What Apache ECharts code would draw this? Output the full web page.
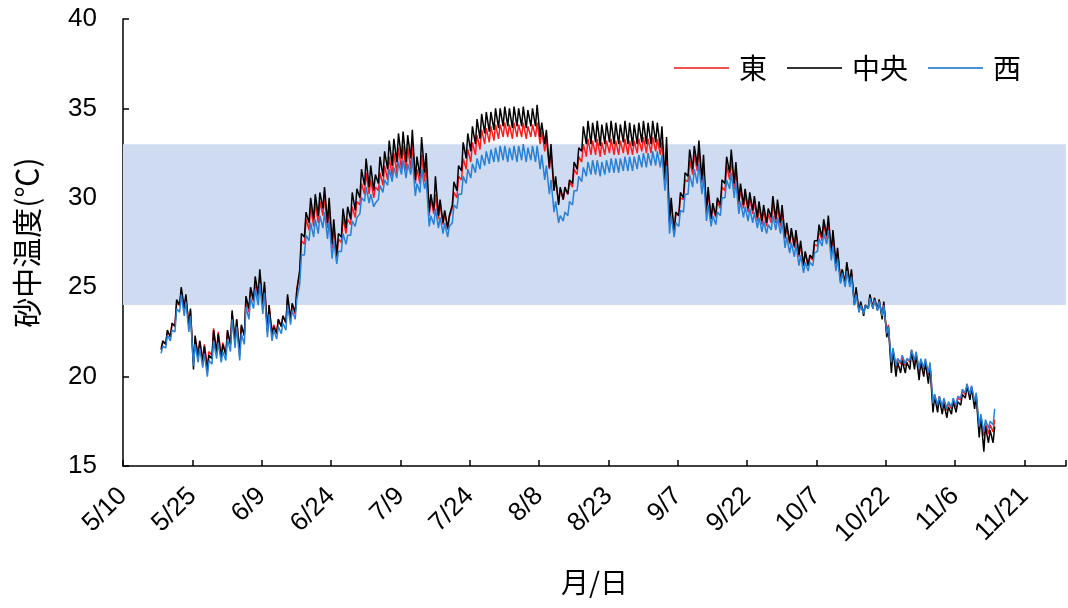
<!DOCTYPE html>
<html><head><meta charset="utf-8">
<script src="https://cdn.jsdelivr.net/npm/echarts@6/dist/echarts.min.js"></script>
<style>html,body{margin:0;padding:0;background:#fff}#c{width:1068px;height:608px}</style>
</head><body><div id="c"></div>
<script>
const seriesNames = ['東', '中央', '西'];
const xTickLabels = ['5/10','5/25','6/9','6/24','7/9','7/24','8/8','8/23','9/7','9/22','10/7','10/22','11/6','11/21'];
const yTicks = [15, 20, 25, 30, 35, 40];
const bandRange = [24, 33];
const START_DAY = 8; // first day of data = 5/18 (days after 5/10)

// 中央 daily low / high
const centerLow = [
21.5,21.8,22.2,22.8,24.0,23.8,22.8,20.4,21.0,20.8,
20.3,21.0,21.3,21.0,21.2,21.8,22.0,21.2,22.3,23.8,
24.3,24.6,24.0,22.5,22.3,22.4,22.8,23.0,23.2,23.6,
26.0,27.8,28.6,28.8,29.0,29.4,28.6,27.4,26.7,27.8,
28.3,28.8,29.3,30.0,30.7,30.6,30.4,30.8,31.2,31.6,
31.8,32.0,32.2,32.0,32.2,31.0,31.2,31.4,29.2,29.3,
29.0,28.6,28.3,29.6,30.4,31.5,32.2,32.6,33.0,33.3,
33.6,33.7,33.8,33.9,34.0,34.0,33.9,34.0,34.0,33.9,
34.0,34.0,33.4,33.0,31.7,30.4,29.6,29.9,30.2,30.8,
31.6,32.6,33.0,33.0,33.1,32.9,33.0,33.1,33.0,33.0,
33.1,33.0,32.9,33.0,33.1,33.0,33.0,33.1,32.8,31.0,
28.6,28.0,29.0,30.0,31.2,31.6,31.8,31.0,29.2,28.8,
29.0,29.6,30.8,31.4,30.8,29.8,29.6,29.4,29.3,28.9,
28.7,28.6,28.9,28.8,28.6,27.8,27.5,27.3,26.8,26.2,
26.2,26.6,27.6,27.8,27.9,27.0,26.3,25.3,25.2,25.2,
24.0,23.6,23.4,23.8,23.8,23.7,23.2,22.2,20.2,20.0,
20.2,20.2,20.4,20.4,19.8,20.0,19.6,18.0,18.0,17.9,
17.7,17.9,18.0,18.4,18.8,18.7,18.2,16.6,15.8,16.3,16.3];
const centerHigh = [
22.0,22.6,23.0,24.3,25.0,24.6,23.8,22.3,22.0,21.7,
21.2,22.6,22.4,21.8,22.6,23.7,23.2,22.9,24.5,25.0,
25.6,26.0,25.3,24.0,22.8,23.2,23.4,24.6,24.1,24.8,
28.0,29.2,30.0,30.2,30.3,30.6,30.0,28.8,28.0,29.4,
29.5,30.3,30.5,31.6,32.2,31.8,31.3,32.3,32.6,33.2,
33.3,33.6,33.7,33.5,33.8,32.3,33.4,32.5,30.2,31.2,
29.9,29.3,29.0,30.9,31.8,33.1,33.6,34.0,34.4,34.7,
34.8,34.8,35.0,35.0,35.1,35.0,35.1,35.0,35.1,34.9,
35.0,35.2,34.2,33.8,33.0,31.2,30.6,30.6,31.0,32.0,
32.8,34.0,34.3,34.2,34.3,34.1,34.2,34.3,34.2,34.1,
34.3,34.2,34.1,34.2,34.3,34.2,34.3,34.2,34.0,33.4,
30.0,29.2,30.3,31.4,32.7,32.9,33.2,32.4,30.6,29.7,
30.0,31.0,32.3,32.7,32.0,30.8,30.5,30.3,30.1,29.8,
29.6,29.4,30.1,29.9,29.6,28.6,28.3,28.2,27.6,27.0,
26.8,27.6,28.5,28.8,29.0,28.2,27.2,26.0,26.4,26.0,
25.0,24.2,24.0,24.6,24.4,24.3,24.2,22.8,21.5,20.8,
20.9,20.8,21.4,21.2,20.8,20.8,20.6,18.9,18.8,18.5,
18.3,18.6,18.6,19.0,19.5,19.4,18.9,17.8,17.2,17.0,17.2];

// 東 daily low / high
const eastLow = [
21.6,21.9,22.3,22.9,24.0,23.8,22.9,20.8,21.2,21.0,
20.6,21.2,21.4,21.2,21.3,21.8,22.0,21.4,22.3,23.6,
24.2,24.4,23.9,22.6,22.4,22.5,22.8,23.0,23.2,23.5,
25.8,27.4,28.2,28.4,28.6,29.0,28.3,27.2,26.6,27.5,
28.0,28.5,28.9,29.6,30.2,30.2,30.0,30.4,30.7,31.0,
31.2,31.4,31.6,31.5,31.6,30.8,30.8,30.9,29.0,29.1,
28.8,28.5,28.2,29.4,30.0,31.0,31.6,32.0,32.4,32.7,
33.0,33.1,33.2,33.3,33.4,33.4,33.3,33.4,33.4,33.3,
33.4,33.4,33.0,32.6,31.6,30.4,29.7,29.9,30.2,30.6,
31.3,32.0,32.3,32.4,32.4,32.3,32.4,32.5,32.4,32.4,
32.5,32.4,32.4,32.5,32.6,32.5,32.5,32.6,32.4,30.9,
28.6,28.1,29.0,29.9,30.9,31.3,31.5,30.8,29.2,28.8,
28.9,29.4,30.4,31.0,30.5,29.6,29.4,29.2,29.1,28.7,
28.5,28.4,28.6,28.6,28.4,27.7,27.4,27.2,26.7,26.2,
26.2,26.5,27.3,27.6,27.7,26.9,26.3,25.4,25.3,25.3,
24.1,23.7,23.6,23.9,23.9,23.8,23.4,22.4,20.6,20.5,
20.7,20.6,20.8,20.8,20.3,20.4,20.1,18.4,18.3,18.3,
18.1,18.2,18.3,18.7,19.0,18.9,18.5,17.0,16.7,16.8,16.9];
const eastHigh = [
21.9,22.5,22.9,24.1,24.8,24.5,23.7,22.2,22.0,21.8,
21.4,22.7,22.5,21.9,22.5,23.5,23.2,22.8,24.3,24.8,
25.3,25.6,25.1,24.0,22.9,23.2,23.4,24.4,24.0,24.9,
27.6,28.8,29.5,29.7,29.8,30.1,29.5,28.4,27.7,28.9,
28.8,29.5,29.8,30.8,31.4,31.0,30.6,31.4,31.8,32.3,
32.5,32.8,32.9,32.8,33.0,31.6,32.4,31.8,29.9,30.2,
29.6,29.2,28.9,30.3,31.2,32.2,32.7,33.1,33.5,33.8,
33.9,34.0,34.1,34.1,34.2,34.1,34.2,34.1,34.2,34.0,
34.1,34.2,33.7,33.3,32.6,31.0,30.5,30.5,30.9,31.6,
32.3,33.0,33.3,33.2,33.3,33.1,33.2,33.3,33.2,33.2,
33.3,33.2,33.2,33.3,33.4,33.3,33.4,33.3,33.1,32.8,
29.7,29.1,30.0,31.0,32.1,32.4,32.7,31.9,30.3,29.5,
29.8,30.6,31.8,32.2,31.6,30.5,30.2,30.0,29.8,29.5,
29.3,29.1,29.7,29.5,29.2,28.4,28.1,28.0,27.4,26.9,
26.7,27.4,28.2,28.5,28.6,27.9,27.0,26.0,26.3,25.9,
24.8,24.1,24.0,24.5,24.4,24.3,24.1,22.9,21.5,21.0,
21.1,21.0,21.5,21.3,20.9,20.9,20.7,19.0,18.9,18.7,
18.5,18.7,18.8,19.2,19.5,19.4,19.0,17.8,17.4,17.3,17.6];

// 西 daily low / high
const westLow = [
21.3,21.6,22.0,22.5,23.6,23.4,22.5,20.6,20.8,20.5,
20.0,20.7,21.0,20.8,20.9,21.4,21.6,20.9,21.8,23.2,
23.8,24.0,23.5,22.2,22.0,22.1,22.4,22.6,22.9,23.2,
25.2,26.8,27.6,27.8,28.0,28.3,27.7,26.6,26.3,27.0,
27.4,27.9,28.4,29.1,29.8,29.7,29.5,29.9,30.3,30.7,
30.9,31.1,31.3,31.1,31.3,30.1,30.3,30.5,28.4,28.5,
28.3,28.0,27.8,28.6,29.4,30.2,30.8,31.1,31.4,31.6,
31.8,31.9,32.0,32.0,32.1,32.0,32.1,32.0,32.1,32.0,
32.1,32.0,31.6,31.0,30.2,29.2,28.6,28.7,29.0,29.6,
30.4,30.9,31.2,31.3,31.3,31.2,31.3,31.4,31.4,31.4,
31.5,31.5,31.5,31.6,31.7,31.7,31.8,31.8,31.7,30.4,
28.0,27.8,28.4,29.2,30.2,30.6,30.8,30.2,28.7,28.4,
28.5,29.0,30.0,30.5,30.0,29.1,28.9,28.7,28.6,28.3,
28.1,28.0,28.2,28.2,28.0,27.2,26.9,26.7,26.2,25.8,
25.9,26.2,27.0,27.3,27.4,26.5,25.9,25.2,25.0,25.0,
24.0,23.6,23.5,23.8,23.8,23.7,23.4,22.4,20.8,20.6,
20.8,20.7,20.9,20.9,20.4,20.5,20.2,18.5,18.4,18.3,
18.2,18.3,18.4,18.8,19.1,19.0,18.6,17.2,16.9,17.1,17.3];
const westHigh = [
21.7,22.3,22.6,23.8,24.6,24.2,23.4,21.8,21.6,21.3,
20.9,22.0,21.9,21.4,22.1,23.2,22.8,22.4,23.9,24.4,
24.9,25.2,24.7,23.5,22.6,22.8,23.0,24.0,23.7,24.3,
26.8,27.9,28.6,28.8,29.0,29.2,28.7,27.6,27.0,28.0,
27.9,28.7,28.9,30.0,30.6,30.2,29.7,30.7,31.0,31.6,
31.7,32.0,32.1,31.9,32.2,30.8,31.6,31.0,29.0,29.4,
28.9,28.6,28.4,29.6,30.2,31.2,31.6,31.9,32.2,32.4,
32.6,32.7,32.8,32.9,32.9,32.8,32.9,32.9,33.0,32.8,
32.9,32.9,32.4,31.8,31.0,29.8,29.0,29.2,29.8,30.4,
31.2,31.7,32.0,32.1,32.1,32.0,32.1,32.2,32.2,32.2,
32.3,32.3,32.3,32.4,32.5,32.5,32.6,32.6,32.4,31.8,
29.0,28.6,29.3,30.2,31.3,31.6,31.9,31.2,29.6,29.0,
29.2,30.0,31.0,31.4,30.9,29.8,29.5,29.4,29.2,28.9,
28.7,28.5,29.0,28.9,28.7,27.8,27.5,27.4,26.8,26.4,
26.4,26.9,27.7,28.0,28.2,27.3,26.6,25.8,25.9,25.6,
24.6,24.0,24.0,24.4,24.3,24.2,24.0,22.8,21.6,21.0,
21.2,21.0,21.5,21.4,21.0,21.0,20.8,19.0,18.9,18.8,
18.6,18.8,18.9,19.3,19.6,19.5,19.1,17.9,17.6,17.5,18.2];

function buildSeries(lows, highs) {
  const out = [];
  for (let i = 0; i < lows.length; i++) {
    const d = START_DAY + i;
    out.push([d + 0.25, lows[i]]);
    out.push([d + 0.6, highs[i]]);
  }
  return out;
}

const chart = echarts.init(document.getElementById('c'), null, {renderer: 'canvas'});
const FONT = '"Liberation Sans", Arial, "Noto Sans CJK JP", sans-serif';
const CJK = '"Noto Sans CJK JP", "Noto Sans CJK SC", sans-serif';
const colors = ['#ff1e1e', '#000000', '#2a80d2'];
const legendColors = ['#f05050', '#333333', '#4a92d4'];

chart.setOption({
  animation: false,
  backgroundColor: '#ffffff',
  grid: {left: 123, top: 19, right: 0, bottom: 142, containLabel: false},
  legend: {
    right: 42, top: 49,
    icon: 'rect',
    itemWidth: 55, itemHeight: 2, itemGap: 20,
    textStyle: {fontFamily: CJK, fontSize: 28, color: '#000', padding: [0, 0, 0, 5]},
    data: seriesNames.map((n, i) => ({name: n, itemStyle: {color: legendColors[i]}}))
  },
  xAxis: {
    type: 'value', min: 0, max: 204, interval: 15,
    name: '月/日', nameLocation: 'middle', nameGap: 102,
    nameTextStyle: {fontFamily: CJK, fontSize: 28, color: '#000'},
    axisLine: {show: true, lineStyle: {color: '#000', width: 1.5}},
    axisTick: {show: true, inside: true, length: 6, lineStyle: {color: '#000', width: 1.5}},
    splitLine: {show: false},
    axisLabel: {
      rotate: 45, margin: 26, fontFamily: FONT, fontSize: 26, color: '#000',
      formatter: v => xTickLabels[Math.round(v / 15)] || ''
    }
  },
  yAxis: {
    type: 'value', min: yTicks[0], max: yTicks[yTicks.length - 1], interval: 5,
    name: '砂中温度(℃)', nameLocation: 'middle', nameGap: 81, nameRotate: 90,
    nameTextStyle: {fontFamily: CJK, fontSize: 30, color: '#000'},
    axisLine: {show: true, lineStyle: {color: '#000', width: 1.5}},
    axisTick: {show: true, inside: true, length: 6, lineStyle: {color: '#000', width: 1.5}},
    splitLine: {show: false},
    axisLabel: {margin: 26, fontFamily: FONT, fontSize: 26, color: '#000'}
  },
  series: [
    {
      name: seriesNames[0], type: 'line', symbol: 'none', data: buildSeries(eastLow, eastHigh),
      lineStyle: {color: colors[0], width: 1.5}, itemStyle: {color: colors[0]},
      markArea: {silent: true, itemStyle: {color: '#cfdbf0'}, data: [[{yAxis: bandRange[0]}, {yAxis: bandRange[1]}]]},
      z: 2
    },
    {
      name: seriesNames[1], type: 'line', symbol: 'none', data: buildSeries(centerLow, centerHigh),
      lineStyle: {color: colors[1], width: 1.5}, itemStyle: {color: colors[1]}, z: 3
    },
    {
      name: seriesNames[2], type: 'line', symbol: 'none', data: buildSeries(westLow, westHigh),
      lineStyle: {color: colors[2], width: 1.5}, itemStyle: {color: colors[2]}, z: 4
    }
  ]
});
</script>
</body></html>
